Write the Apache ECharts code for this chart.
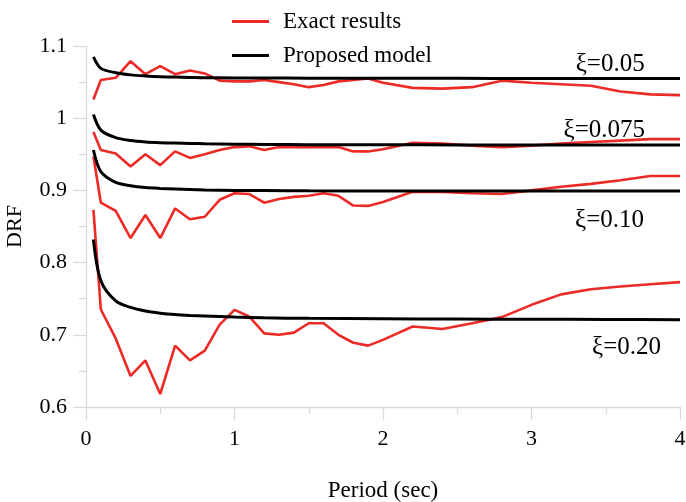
<!DOCTYPE html>
<html>
<head>
<meta charset="utf-8">
<script src="https://cdn.jsdelivr.net/npm/echarts@6/dist/echarts.min.js"></script>
<style>
html,body{margin:0;padding:0;background:#fff;}
#chart{width:686px;height:502px;}
</style>
</head>
<body>
<div id="chart"></div>
<script>
// Periods (sec) of the exact results
const periodsExact = [0.05,0.1,0.2,0.3,0.4,0.5,0.6,0.7,0.8,0.9,1.0,1.1,1.2,1.3,1.4,1.5,1.6,1.7,1.8,1.9,2.0,2.2,2.4,2.6,2.8,3.0,3.2,3.4,3.6,3.8,4.0];
// Periods (sec) of the proposed model curves
const periodsModel = [0.05,0.1,0.2,0.3,0.4,0.5,0.6,0.7,0.8,1.0,1.2,1.5,2.0,2.5,3.0,3.5,4.0];

const exact005  = [1.026,1.053,1.056,1.079,1.061,1.072,1.061,1.066,1.062,1.052,1.051,1.051,1.053,1.050,1.047,1.043,1.046,1.051,1.053,1.055,1.049,1.042,1.041,1.043,1.052,1.049,1.047,1.045,1.037,1.033,1.032];
const exact0075 = [0.981,0.956,0.951,0.933,0.950,0.935,0.954,0.945,0.950,0.956,0.960,0.961,0.956,0.960,0.960,0.960,0.960,0.960,0.954,0.954,0.957,0.966,0.965,0.962,0.960,0.962,0.965,0.967,0.969,0.971,0.971];
const exact010  = [0.947,0.883,0.8715,0.834,0.866,0.834,0.875,0.860,0.8635,0.887,0.896,0.895,0.883,0.888,0.891,0.8925,0.896,0.8925,0.879,0.8785,0.884,0.898,0.898,0.896,0.895,0.900,0.905,0.909,0.914,0.920,0.920];
const exact020  = [0.873,0.735,0.695,0.643,0.6645,0.618,0.685,0.6645,0.678,0.714,0.7346,0.7253,0.702,0.700,0.703,0.716,0.716,0.700,0.689,0.685,0.693,0.7115,0.708,0.716,0.7245,0.7415,0.756,0.763,0.767,0.770,0.773];

const model005  = [1.085,1.069,1.063,1.060,1.0585,1.0575,1.057,1.0565,1.056,1.0558,1.0556,1.0555,1.0553,1.0552,1.0551,1.055,1.055];
const model0075 = [1.005,0.9835,0.973,0.969,0.967,0.966,0.9655,0.965,0.9646,0.964,0.9637,0.9634,0.9632,0.963,0.963,0.963,0.963];
const model010  = [0.956,0.926,0.911,0.9065,0.904,0.9028,0.902,0.9013,0.9007,0.900,0.8997,0.8994,0.8992,0.899,0.899,0.899,0.899];
const model020  = [0.832,0.775,0.747,0.738,0.733,0.730,0.728,0.7268,0.726,0.7245,0.7235,0.7228,0.7222,0.7218,0.7215,0.7213,0.721];

const dampingLabels = ['ξ=0.05','ξ=0.075','ξ=0.10','ξ=0.20'];
const labelAnchors = [[3.53,1.074],[3.49,0.9835],[3.526,0.859],[3.64,0.682]];

const xTicks = [0,1,2,3,4];
const yTicks = [0.6,0.7,0.8,0.9,1.0,1.1];

const FONT = '"Liberation Serif","Times New Roman",serif';
const RED = '#ec2a26';
const GREY = '#d9d9d9';

function pairs(xs, ys){ return xs.map((x,i)=>[x, ys[i]]); }

const exactSets = [exact005, exact0075, exact010, exact020];
const modelSets = [model005, model0075, model010, model020];

const series = [];
exactSets.forEach(d => series.push({
  name:'Exact results', type:'line', data:pairs(periodsExact,d),
  showSymbol:false, symbol:'none', z:2,
  lineStyle:{color:RED,width:2.6}, itemStyle:{color:RED}
}));
modelSets.forEach((d,i) => series.push({
  name:'Proposed model', type:'line', data:pairs(periodsModel,d),
  showSymbol:false, symbol:'none', smooth:0.3, z:3,
  lineStyle:{color:'#000',width:3}, itemStyle:{color:'#000'},
  markPoint:{
    symbol:'circle', symbolSize:1, itemStyle:{color:'rgba(0,0,0,0)'},
    label:{show:true, position:'inside', formatter:dampingLabels[i], color:'#000', fontSize:25, fontFamily:FONT},
    data:[{coord:labelAnchors[i]}]
  }
}));

const chart = echarts.init(document.getElementById('chart'));
chart.setOption({
  animation:false,
  backgroundColor:'#fff',
  grid:{left:86, right:6, top:46, bottom:95, containLabel:false, outerBoundsMode:'none'},
  legend:{
    orient:'vertical', left:227, top:5, itemGap:11,
    itemWidth:37, itemHeight:3, icon:'rect',
    data:['Exact results','Proposed model'],
    textStyle:{fontFamily:FONT, fontSize:23, color:'#000', lineHeight:23, padding:[0,0,0,9]}
  },
  xAxis:{
    type:'value', min:xTicks[0], max:xTicks[xTicks.length-1], interval:1,
    name:'Period (sec)', nameLocation:'middle', nameGap:72,
    nameTextStyle:{fontFamily:FONT, fontSize:23, color:'#000'},
    axisLine:{show:true, lineStyle:{color:GREY, width:1.3}},
    axisTick:{show:true, length:13, lineStyle:{color:GREY, width:1.3}},
    minorTick:{show:true, splitNumber:2, length:7, lineStyle:{color:GREY, width:1.3}},
    splitLine:{show:false},
    axisLabel:{fontFamily:FONT, fontSize:22, color:'#000', margin:21}
  },
  yAxis:{
    type:'value', min:yTicks[0], max:yTicks[yTicks.length-1], interval:0.1,
    name:'DRF', nameLocation:'middle', nameGap:60,
    nameTextStyle:{fontFamily:FONT, fontSize:22, color:'#000'},
    axisLine:{show:true, lineStyle:{color:GREY, width:1.3}},
    axisTick:{show:true, length:13, lineStyle:{color:GREY, width:1.3}},
    minorTick:{show:true, splitNumber:2, length:7, lineStyle:{color:GREY, width:1.3}},
    splitLine:{show:false},
    axisLabel:{fontFamily:FONT, fontSize:22, color:'#000', margin:19,
      formatter:v => String(+v.toFixed(2))}
  },
  series:series
});
</script>
</body>
</html>
